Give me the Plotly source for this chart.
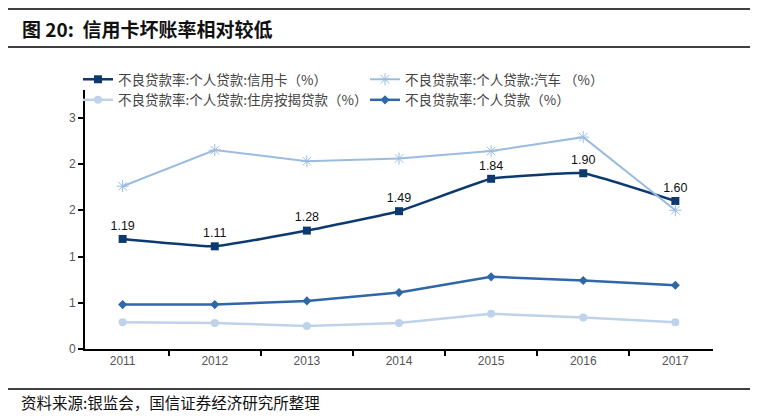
import plotly.graph_objects as go

years = ["2011", "2012", "2013", "2014", "2015", "2016", "2017"]
credit_card = [1.19, 1.11, 1.28, 1.49, 1.84, 1.90, 1.60]
auto = [1.76, 2.15, 2.03, 2.06, 2.14, 2.29, 1.50]
mortgage = [0.29, 0.28, 0.25, 0.28, 0.38, 0.34, 0.29]
personal = [0.48, 0.48, 0.52, 0.61, 0.78, 0.74, 0.69]
credit_labels = ["1.19", "1.11", "1.28", "1.49", "1.84", "1.90", "1.60"]

names = [
    "不良贷款率:个人贷款:信用卡（%）",
    "不良贷款率:个人贷款:汽车 （%）",
    "不良贷款率:个人贷款:住房按揭贷款（%）",
    "不良贷款率:个人贷款（%）",
]
ytickvals = [0, 0.5, 1.0, 1.5, 2.0, 2.5]
yticktext = ["0", "1", "1", "2", "2", "3"]

# page body has an 8px margin: work in screen pixels, convert to figure pixels
OFF = 8
W, H = 758 - OFF, 416 - OFF
ML, MR, MT, MB = 85 - OFF, 45, 90 - OFF, 67
PW, PH = W - ML - MR, H - MT - MB


def px(x):
    return (x - OFF - ML) / PW


def py(y):
    return (H - MB - (y - OFF)) / PH


CJK = "Noto Sans CJK SC"

fig = go.Figure()
fig.add_trace(go.Scatter(
    x=years, y=credit_card, name=names[0], mode="lines+markers+text",
    text=credit_labels, textposition="top center",
    textfont=dict(family="Liberation Sans, Arial", size=12.5, color="#111111"),
    line=dict(color="#0D3A6E", width=2.5, shape="spline", smoothing=0.3),
    marker=dict(symbol="square", size=8, color="#0D3A6E"),
))
fig.add_trace(go.Scatter(
    x=years, y=auto, name=names[1], mode="lines+markers",
    line=dict(color="#9BBCDF", width=2),
    marker=dict(symbol="asterisk-open", size=10, color="#9BBCDF",
                line=dict(color="#9BBCDF", width=1)),
))
fig.add_trace(go.Scatter(
    x=years, y=mortgage, name=names[2], mode="lines+markers",
    line=dict(color="#BED3EA", width=2.5),
    marker=dict(symbol="circle", size=8, color="#BED3EA"),
))
fig.add_trace(go.Scatter(
    x=years, y=personal, name=names[3], mode="lines+markers",
    line=dict(color="#2F67A8", width=2.5),
    marker=dict(symbol="diamond", size=7, color="#2F67A8"),
))

shapes = [
    dict(type="line", xref="paper", yref="paper", x0=px(8), x1=px(758),
         y0=py(9), y1=py(9), line=dict(color="#000000", width=1.5)),
    dict(type="line", xref="paper", yref="paper", x0=px(8), x1=px(758),
         y0=py(47), y1=py(47), line=dict(color="#000000", width=1.5)),
    dict(type="line", xref="paper", yref="paper", x0=px(8), x1=px(758),
         y0=py(389), y1=py(389), line=dict(color="#000000", width=1.5)),
]

annotations = [
    dict(text="<b>图 20:&nbsp;&nbsp;信用卡坏账率相对较低</b>", xref="paper", yref="paper",
         x=px(20), y=py(28), xanchor="left", yanchor="middle", showarrow=False,
         font=dict(family=CJK, size=19, color="#111111")),
    dict(text="资料来源:银监会，国信证券经济研究所整理", xref="paper", yref="paper",
         x=px(19), y=py(402), xanchor="left", yanchor="middle", showarrow=False,
         font=dict(family=CJK, size=15.5, color="#111111")),
]

fig.update_layout(
    width=W, height=H,
    margin=dict(l=ML, r=MR, t=MT, b=MB),
    paper_bgcolor="white", plot_bgcolor="white",
    shapes=shapes, annotations=annotations,
    legend=dict(orientation="h", x=px(78), y=py(64), xanchor="left", yanchor="top",
                entrywidth=242, entrywidthmode="pixels",
                font=dict(family=CJK, size=13.5, color="#444444"),
                itemwidth=30, tracegroupgap=0, bgcolor="rgba(0,0,0,0)"),
    xaxis=dict(type="category", showline=True, linecolor="#000000", linewidth=2,
               ticks="outside", ticklen=5, tickcolor="#000000", tickwidth=1.5,
               tickson="boundaries", showgrid=False, zeroline=False,
               tickfont=dict(family="Liberation Sans, Arial", size=12, color="#555555")),
    yaxis=dict(range=[0, 2.8], tickvals=ytickvals, ticktext=yticktext,
               showline=True, linecolor="#000000", linewidth=2,
               ticks="outside", ticklen=5, tickcolor="#000000", tickwidth=1.5,
               showgrid=False, zeroline=False,
               tickfont=dict(family="Liberation Sans, Arial", size=12, color="#555555")),
)

fig.write_html("out.html")
